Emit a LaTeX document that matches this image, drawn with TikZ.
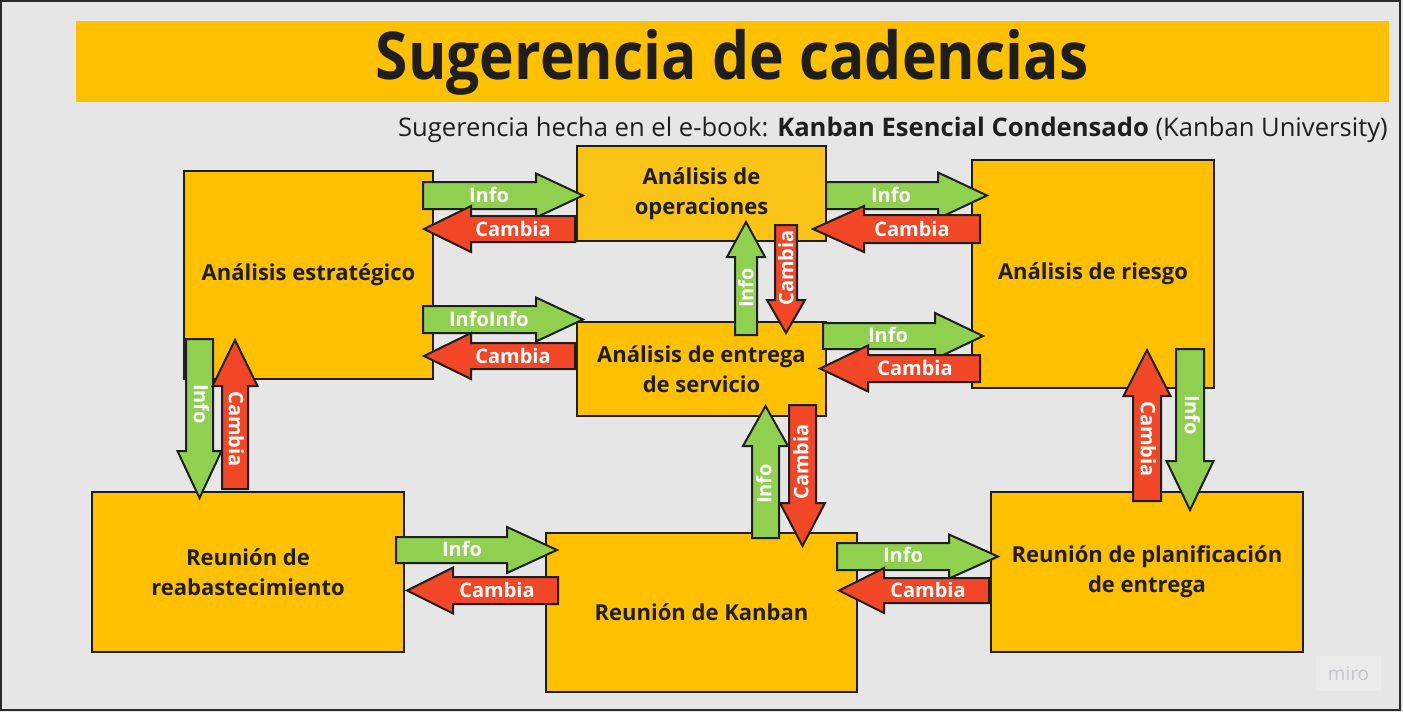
\documentclass[tikz,border=0pt]{standalone}
\usepackage{fontspec}
\setmainfont{Open Sans}
\definecolor{bg}{HTML}{E6E6E6}
\definecolor{frame}{HTML}{2B2B2B}
\definecolor{ybox}{HTML}{FFC000}
\definecolor{ybox2}{HTML}{F9C416}
\definecolor{agreen}{HTML}{8FD14F}
\definecolor{ared}{HTML}{F24726}
\definecolor{ink}{HTML}{1E1E1E}
\definecolor{miro}{HTML}{C5C5CE}
\definecolor{mirobg}{HTML}{EBEBEB}
% horizontal block arrow: #1 colour, #2 tail x, #3 head-base x, #4 tip x, #5 y, #6 shaft half, #7 head half
\newcommand\harr[7]{%
  \filldraw[arrline, fill=#1] (#2,#5-#6) -- (#3,#5-#6) -- (#3,#5-#7) -- (#4,#5)
    -- (#3,#5+#7) -- (#3,#5+#6) -- (#2,#5+#6) -- cycle;}
% vertical block arrow: #1 colour, #2 tail y, #3 head-base y, #4 tip y, #5 x, #6 shaft half, #7 head half
\newcommand\varr[7]{%
  \filldraw[arrline, fill=#1] (#5-#6,#2) -- (#5-#6,#3) -- (#5-#7,#3) -- (#5,#4)
    -- (#5+#7,#3) -- (#5+#6,#3) -- (#5+#6,#2) -- cycle;}
\begin{document}
\begin{tikzpicture}[x=1pt,y=-1pt,
  box/.style={draw=ink, line width=2pt, fill=ybox, inner sep=0pt, align=center,
    text=ink, font=\fontsize{22}{30}\selectfont\bfseries},
  arrline/.style={draw=ink, line width=2pt, line join=miter},
  lbl/.style={text=white, inner sep=0pt, text height=14.5pt, text depth=0pt,
    font=\fontsize{20}{20}\selectfont\bfseries}]
\useasboundingbox (0,0) rectangle (1403,712);
\fill[bg] (0,0) rectangle (1403,712);
\draw[frame, line width=2pt] (1,1) rectangle (1400,710);

% title banner
\node[fill=ybox, minimum width=1313pt, minimum height=81pt, inner sep=0pt] (banner) at (732.5,61.5) {};
\node[anchor=base, text=ink, inner sep=0pt, font=\fontsize{66}{66}\selectfont\bfseries] (title) at (732,79.5) {\scalebox{0.89}[1]{Sugerencia de cadencias}};
\node[anchor=base east, text=ink, inner sep=0pt, font=\fontsize{25.6}{26}\selectfont] (sub) at (1388,136)
  {Sugerencia hecha en el e-book: \textbf{Kanban Esencial Condensado} (Kanban University)};

% boxes
\node[box, minimum width=249pt, minimum height=208pt] (estr) at (308.5,275) {Análisis estratégico};
\node[box, fill=ybox2, minimum width=249pt, minimum height=95pt] (oper) at (701.5,193.5) {Análisis de\\operaciones};
\node[box, minimum width=249pt, minimum height=94pt] (serv) at (701.5,369) {Análisis de entrega\\de servicio};
\node[box, minimum width=242pt, minimum height=228pt] (ries) at (1093,274) {Análisis de riesgo};
\node[box, minimum width=312pt, minimum height=160pt] (reab) at (248,572) {Reunión de\\reabastecimiento};
\node[box, minimum width=311pt, minimum height=159pt] (kanb) at (701.5,612.5) {Reunión de Kanban};
\node[box, minimum width=312pt, minimum height=160pt] (plan) at (1147,572) {Reunión de planificación\\de entrega};

% horizontal arrows, upper rows
\harr{agreen}{423}{536}{583}{195.5}{13.5}{22}
\node[lbl] (a1) at (489,195) {Info};
\harr{ared}{575}{471}{424}{229}{13}{23}
\node[lbl] (a2) at (513,229) {Cambia};
\harr{agreen}{423}{536}{583}{319.5}{13.5}{22}
\node[lbl] (a3) at (489,319) {InfoInfo};
\harr{ared}{575}{471}{424}{356}{13}{23}
\node[lbl] (a4) at (513,356) {Cambia};
\harr{agreen}{826}{938}{987}{195.5}{13.5}{23}
\node[lbl] (a5) at (891,195) {Info};
\harr{ared}{980}{864}{813}{229}{14}{23}
\node[lbl] (a6) at (912,229) {Cambia};
\harr{agreen}{823}{935}{983}{336}{13}{23}
\node[lbl] (a7) at (888,335) {Info};
\harr{ared}{980}{868}{820}{368.5}{13.5}{23}
\node[lbl] (a8) at (915,368) {Cambia};

% horizontal arrows, bottom row
\harr{agreen}{396}{507}{557}{550}{13}{23}
\node[lbl] (b1) at (462,549) {Info};
\harr{ared}{558}{453}{407}{590.5}{13.5}{23}
\node[lbl] (b2) at (497,590) {Cambia};
\harr{agreen}{837}{949}{998}{556.5}{13.5}{22}
\node[lbl] (b3) at (903,555) {Info};
\harr{ared}{989}{884}{839}{590.5}{12.5}{22.5}
\node[lbl] (b4) at (928,590) {Cambia};

% vertical arrows
\varr{agreen}{335}{257}{222}{746}{11}{19}
\node[lbl, rotate=90] (v1) at (746,288) {Info};
\varr{ared}{225}{300}{333}{786}{11}{19}
\node[lbl, rotate=90] (v2) at (786,268) {Cambia};
\varr{agreen}{339}{451}{498}{199.5}{13.5}{22}
\node[lbl, rotate=-90] (v3) at (201,404) {Info};
\varr{ared}{489}{386}{340}{235}{13}{22.5}
\node[lbl, rotate=-90] (v4) at (236,429) {Cambia};
\varr{agreen}{538}{446}{406}{765.5}{13.5}{22.5}
\node[lbl, rotate=90] (v5) at (764,484) {Info};
\varr{ared}{405}{503}{546}{802.5}{13.5}{22.5}
\node[lbl, rotate=90] (v6) at (801,462) {Cambia};
\varr{ared}{501}{396}{350}{1147}{14}{23.5}
\node[lbl, rotate=-90] (v7) at (1148,439) {Cambia};
\varr{agreen}{349}{461}{510}{1190}{14}{23.5}
\node[lbl, rotate=-90] (v8) at (1192,415) {Info};

% watermark
\node[fill=mirobg, minimum width=65pt, minimum height=35pt, inner sep=0pt, text=miro,
  font=\fontsize{19}{19}\selectfont] (miro) at (1348.5,673.5) {miro};
\end{tikzpicture}
\end{document}
